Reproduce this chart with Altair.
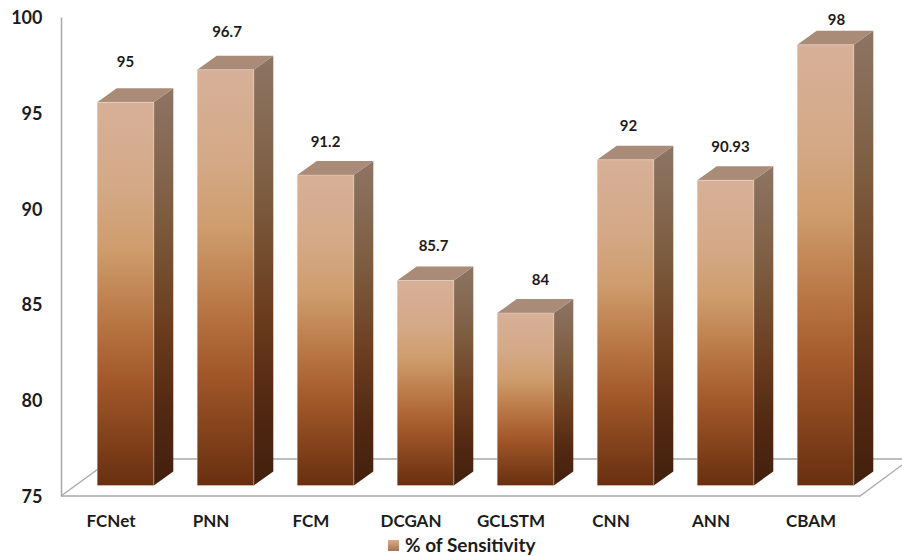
import altair as alt
import pandas as pd

# Sensitivity of each method, in percent
methods = ["FCNet", "PNN", "FCM", "DCGAN", "GCLSTM", "CNN", "ANN", "CBAM"]
sensitivity = [95, 96.7, 91.2, 85.7, 84, 92, 90.93, 98]
value_ticks = [75, 80, 85, 90, 95, 100]
series_name = "% of Sensitivity"

# Label placement relative to the top edge of each bar's front face
label_nudge_x = [0.0, 0.015, 0.0, 0.08, 0.15, 0.03, 0.05, 0.11]
label_nudge_y = [2.09, 1.98, 1.72, 1.78, 1.72, 1.78, 1.72, 1.31]

# Extruded-bar geometry, in axis units
BASE = 75
HALF_WIDTH = 0.283
DEPTH_X = 0.195
DEPTH_Y = 0.73
X_DOMAIN = [-0.645, 7.765]

font = "Lato"
ink = "#1c1c1c"
frame_grey = "#ababab"

PLOT_W, PLOT_H = 841, 479
x_scale = alt.Scale(domain=X_DOMAIN, nice=False, zero=False)
axis_y_scale = alt.Scale(domain=[75, 100], nice=False, zero=False)
# The boxes stand a little behind the front edge of the floor
bar_y_scale = alt.Scale(domain=[75, 100], range=[468.5, -10.5], nice=False, zero=False)

label_lookup = "[" + ",".join(f"'{m}'" for m in methods) + "][datum.value]"
x_axis = alt.Axis(
    values=list(range(len(methods))), labelExpr=label_lookup, domain=False, ticks=False,
    grid=False, labelFont=font, labelFontSize=17, labelFontWeight="bold", labelColor=ink,
    labelPadding=17, labelOffset=-15, labelFlush=False, labelOverlap=False,
)


def gradient(stops):
    return alt.Gradient(
        gradient="linear", x1=0, y1=0, x2=0, y2=1,
        stops=[alt.GradientStop(offset=o, color=c) for o, c in stops],
    )


front_fill = gradient([
    (0.0, "#d7b098"), (0.22, "#d4a987"), (0.38, "#cf9d6d"), (0.55, "#bb7b48"),
    (0.72, "#a4592a"), (0.82, "#8e4a20"), (1.0, "#682f10"),
])
side_fill = gradient([
    (0.0, "#8d7564"), (0.3, "#7e5e42"), (0.6, "#6b3d1e"), (0.8, "#532912"), (1.0, "#42200d"),
])
swatch_fill = gradient([(0.0, "#cb8a58"), (0.55, "#a8592a"), (1.0, "#7a3a16")])

front_rows, side_rows, top_rows, label_rows = [], [], [], []
for i, (m, v) in enumerate(zip(methods, sensitivity)):
    left, right = i - HALF_WIDTH, i + HALF_WIDTH
    front_rows.append({"method": m, "value": v, "base": BASE, "left": left, "right": right})
    side_rows += [
        {"method": m, "x": right, "lo": BASE, "hi": v},
        {"method": m, "x": right + DEPTH_X, "lo": BASE + DEPTH_Y, "hi": v + DEPTH_Y},
    ]
    top_rows += [
        {"method": m, "x": left, "lo": v, "hi": v},
        {"method": m, "x": left + DEPTH_X, "lo": v, "hi": v + DEPTH_Y},
        {"method": m, "x": right, "lo": v, "hi": v + DEPTH_Y},
        {"method": m, "x": right + DEPTH_X, "lo": v + DEPTH_Y, "hi": v + DEPTH_Y},
    ]
    label_rows.append({
        "text": str(v),
        "x": i + label_nudge_x[i],
        "y": v + label_nudge_y[i],
    })

front_df = pd.DataFrame(front_rows)
side_df = pd.DataFrame(side_rows)
top_df = pd.DataFrame(top_rows)
label_df = pd.DataFrame(label_rows)

# Floor outline, drawn on the same scale as the value axis
floor_df = pd.DataFrame([
    {"edge": "front", "n": 0, "x": X_DOMAIN[0], "y": 75},
    {"edge": "front", "n": 1, "x": 7.345, "y": 75},
    {"edge": "front", "n": 2, "x": X_DOMAIN[1], "y": 76.62},
    {"edge": "back", "n": 0, "x": X_DOMAIN[0], "y": 75},
    {"edge": "back", "n": 1, "x": -0.135, "y": 76.93},
    {"edge": "back", "n": 2, "x": X_DOMAIN[1], "y": 76.93},
])

floor = alt.Chart(floor_df).mark_line(color=frame_grey, strokeWidth=1.4).encode(
    x=alt.X("x:Q", scale=x_scale, title=None, axis=x_axis),
    y=alt.Y("y:Q", scale=axis_y_scale, title=None, axis=alt.Axis(
        values=value_ticks, domainColor=frame_grey, domainWidth=1.6, ticks=False, grid=False,
        labelFont=font, labelFontSize=18, labelFontWeight="bold", labelColor=ink,
        labelPadding=19, labelOffset=1.5)),
    detail="edge:N",
    order="n:O",
)

bar_x = alt.X("x:Q", scale=x_scale, title=None, axis=x_axis)
side = alt.Chart(side_df).mark_area(color=side_fill).encode(
    x=bar_x,
    y=alt.Y("lo:Q", scale=bar_y_scale, axis=None),
    y2="hi:Q",
    detail="method:N",
)
top = alt.Chart(top_df).mark_area(color="#a98b77").encode(
    x=bar_x,
    y=alt.Y("lo:Q", scale=bar_y_scale, axis=None),
    y2="hi:Q",
    detail="method:N",
)
front = alt.Chart(front_df).mark_bar(color=front_fill, stroke="#f3e4da", strokeWidth=0.4).encode(
    x=alt.X("left:Q", scale=x_scale, title=None, axis=x_axis),
    x2="right:Q",
    y=alt.Y("value:Q", scale=bar_y_scale, axis=None),
    y2="base:Q",
)
labels = alt.Chart(label_df).mark_text(
    font=font, fontSize=15, fontWeight="bold", color=ink, align="center", baseline="middle"
).encode(
    x=bar_x,
    y=alt.Y("y:Q", scale=bar_y_scale, axis=None),
    text="text:N",
)

legend_key = alt.Chart(pd.DataFrame({"series": [series_name], "x": [0], "y": [80]})).mark_point(
    size=0, filled=True, color=swatch_fill
).encode(
    x=bar_x,
    y=alt.Y("y:Q", scale=axis_y_scale, axis=None),
    shape=alt.Shape("series:N", scale=alt.Scale(domain=[series_name], range=["square"]), legend=alt.Legend(
        orient="none", legendX=323, legendY=519, title=None, symbolSize=120, symbolStrokeWidth=0,
        labelOffset=2, labelFont=font, labelFontSize=19, labelFontWeight="bold", labelColor=ink,
        labelLimit=300,
    )),
)

chart = (
    alt.layer(floor, side, top, front, labels, legend_key)
    .resolve_scale(y="independent")
    .properties(
        width=PLOT_W, height=PLOT_H,
        padding={"left": 61, "top": 17, "right": 0, "bottom": 60},
        autosize=alt.AutoSizeParams(type="none"),
        background="white",
    )
    .configure_view(stroke=None)
)

chart.save("out.html", embed_options={"renderer": "svg", "actions": False})
